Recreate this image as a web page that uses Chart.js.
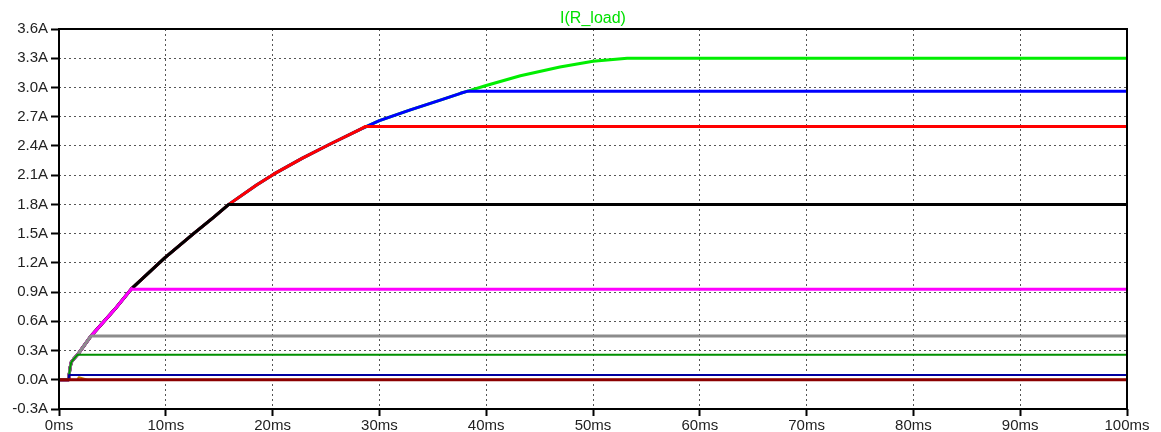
<!DOCTYPE html>
<html>
<head>
<meta charset="utf-8">
<title>I(R_load)</title>
<script src="https://cdn.jsdelivr.net/npm/chart.js@4.4.1/dist/chart.umd.min.js"></script>
<style>
  html, body { margin: 0; padding: 0; background: #fff; }
  canvas { display: block; }
</style>
</head>
<body>
<canvas id="loadChart" width="1161" height="432"></canvas>
<script>
// shared rising envelope (ms, A)
const riseTimes    = [0.9, 0.95, 1.03, 1.15, 1.35, 1.73, 3.0, 5.2, 6.8, 9.9, 12.6, 14.5, 15.9, 18.5, 20.1, 22.8, 25.4, 28.2, 30.0, 32.9, 35.7, 37.6, 38.2, 40.0, 43.2, 46.9, 50.0, 53.2];
const riseCurrents = [0.0, 0.05, 0.12, 0.18, 0.21, 0.256, 0.45, 0.72, 0.935, 1.25, 1.50, 1.67, 1.80, 2.00, 2.11, 2.275, 2.42, 2.57, 2.66, 2.77, 2.87, 2.94, 2.96, 3.02, 3.12, 3.21, 3.27, 3.30];

// settled currents and the time each trace leaves the envelope
const seriesNames   = ['3.3A', '2.96A', '2.6A', '1.8A', '0.93A', '0.45A', '0.26A', '0.05A'];
const seriesLevels  = [3.30, 2.96, 2.60, 1.80, 0.93, 0.45, 0.256, 0.05];
const seriesKnees   = [53.5, 38.2, 28.7, 15.95, 6.85, 3.0, 1.73, 0.95];
const seriesColors  = ['#00ee00', '#0000ff', '#ff0000', '#000000', '#ff00ff', '#8c8c8c', '#009000', '#0000a0'];
const seriesWidths  = [3, 3, 3, 3, 3, 3, 2, 2];

// small orange blip near 2ms, and the zero trace
const blipTimes    = [0, 1.7, 1.85, 2.5, 2.7, 100];
const blipCurrents = [0, 0, 0.025, 0.006, 0, 0];
const zeroTimes    = [0, 100];
const zeroCurrents = [0, 0];

const xTickValues = [0, 10, 20, 30, 40, 50, 60, 70, 80, 90, 100];
const yTickValues = [-0.3, 0.0, 0.3, 0.6, 0.9, 1.2, 1.5, 1.8, 2.1, 2.4, 2.7, 3.0, 3.3, 3.6];
const endTime = 100;

function buildTrace(level, knee) {
    const pts = [{x: 0, y: 0}];
    for (let i = 0; i < riseTimes.length; i++) {
        if (riseTimes[i] < knee) pts.push({x: riseTimes[i], y: riseCurrents[i]});
    }
    pts.push({x: knee, y: level});
    pts.push({x: endTime, y: level});
    return pts;
}

function pairs(xs, ys) {
    return xs.map((x, i) => ({x: x, y: ys[i]}));
}

// first dataset is drawn on top
const datasets = [{
    label: '0A', data: pairs(zeroTimes, zeroCurrents),
    borderColor: '#8b0000', borderWidth: 3
}, {
    label: 'blip', data: pairs(blipTimes, blipCurrents),
    borderColor: '#c08000', borderWidth: 2
}];
for (let i = seriesNames.length - 1; i >= 0; i--) {
    datasets.push({
        label: seriesNames[i],
        data: buildTrace(seriesLevels[i], seriesKnees[i]),
        borderColor: seriesColors[i],
        borderWidth: seriesWidths[i]
    });
}
datasets.forEach(d => {
    d.pointRadius = 0;
    d.fill = false;
    d.tension = 0;
    d.borderJoinStyle = 'round';
    d.borderCapStyle = 'round';
});

const frameAndTitle = {
    id: 'frameAndTitle',
    afterDraw(chart) {
        const {ctx, chartArea: a} = chart;
        ctx.save();
        ctx.strokeStyle = '#000';
        ctx.lineWidth = 2;
        ctx.strokeRect(a.left, a.top, a.right - a.left, a.bottom - a.top);
        ctx.fillStyle = '#00e000';
        ctx.font = '16px "Liberation Sans", Arial, sans-serif';
        ctx.textAlign = 'center';
        ctx.textBaseline = 'middle';
        ctx.fillText('I(R_load)', 593, 19);
        ctx.restore();
    }
};

const tickFont = { family: '"Liberation Sans", Arial, sans-serif', size: 15 };

const ctx = document.getElementById('loadChart').getContext('2d');
const loadChart = new Chart(ctx, {
    type: 'line',
    data: { datasets: datasets },
    options: {
        responsive: false,
        animation: false,
        devicePixelRatio: 1,
        layout: { padding: { top: 29, right: 34, bottom: 0, left: 0 } },
        plugins: {
            legend: { display: false },
            tooltip: { enabled: false },
            title: { display: false }
        },
        scales: {
            x: {
                type: 'linear',
                min: 0,
                max: 100,
                afterBuildTicks: scale => { scale.ticks = xTickValues.map(v => ({value: v})); },
                afterFit: scale => { scale.height = 23; },
                grid: {
                    color: '#555', lineWidth: 1, drawTicks: true, tickLength: 7,
                    tickColor: '#000', tickWidth: 2, tickBorderDash: []
                },
                border: { display: false, dash: [2, 3] },
                ticks: {
                    color: '#222', font: tickFont, padding: 1, maxRotation: 0,
                    autoSkip: false,
                    callback: v => v + 'ms'
                }
            },
            y: {
                type: 'linear',
                min: -0.3,
                max: 3.6,
                afterBuildTicks: scale => { scale.ticks = yTickValues.map(v => ({value: v})); },
                afterFit: scale => { scale.width = 59; },
                grid: {
                    color: '#555', lineWidth: 1, drawTicks: true, tickLength: 8,
                    tickColor: '#000', tickWidth: 2, tickBorderDash: []
                },
                border: { display: false, dash: [2, 3] },
                ticks: {
                    color: '#222', font: tickFont, padding: 3,
                    autoSkip: false,
                    callback: v => v.toFixed(1) + 'A'
                }
            }
        }
    },
    plugins: [frameAndTitle]
});
</script>
</body>
</html>
